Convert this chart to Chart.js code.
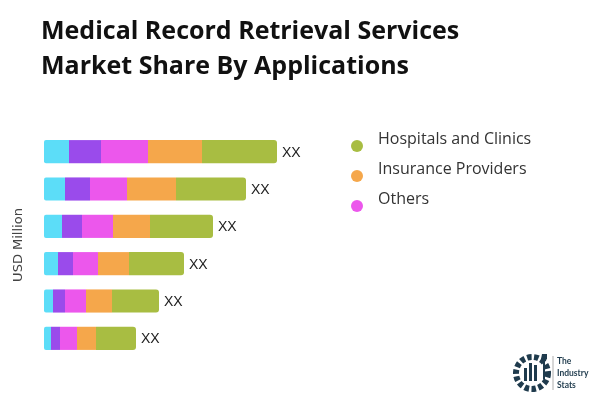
<!DOCTYPE html>
<html>
<head>
<meta charset="utf-8">
<script src="https://cdn.jsdelivr.net/npm/chart.js@4.4.1/dist/chart.umd.min.js"></script>
<style>
  body { margin: 0; background: #fff; }
  #wrap { position: relative; width: 600px; height: 400px; overflow: hidden; }
  #chart { position: absolute; left: 0; top: 0; }
  #title { position: absolute; left: 41px; top: 12px; font-family: "Open Sans", sans-serif; font-weight: 700; font-size: 25px; line-height: 35px; color: #111; }
  #legend { position: absolute; left: 351px; top: 127px; font-family: "Open Sans", sans-serif; font-size: 16px; color: #333; }
  .item { position: relative; height: 30px; padding-left: 27px; line-height: 22px; }
  .dot { position: absolute; left: 0; top: 13px; width: 12px; height: 12px; border-radius: 50%; }
  #logo { position: absolute; left: 510px; top: 350px; }
</style>
</head>
<body>
<div id="wrap">
  <canvas id="chart" width="600" height="400"></canvas>
  <div id="title">Medical Record Retrieval Services<br>Market Share By Applications</div>
  <div id="legend"></div>
  <svg id="logo" width="90" height="45" viewBox="0 0 90 45">
    <circle cx="22" cy="23" r="16" fill="none" stroke="#1f3b4d" stroke-width="6" stroke-dasharray="4.5 2.5"/>
    <rect x="14" y="18" width="3" height="13" fill="#1f3b4d"/>
    <rect x="19" y="13" width="3" height="18" fill="#1f3b4d"/>
    <rect x="24" y="15" width="3" height="16" fill="#1f3b4d"/>
    <path d="M32 4 l5 0 l0 5 l-2 2 l0 18 l-2 0 l0 -18 l-2 -2z" fill="#1f3b4d"/>
    <line x1="43" y1="6" x2="43" y2="40" stroke="#999" stroke-width="0.8"/>
    <text x="47" y="14" font-family="Lato, sans-serif" font-weight="700" font-size="8.5" fill="#1f3b4d">The</text>
    <text x="47" y="26" font-family="Lato, sans-serif" font-weight="700" font-size="8.5" fill="#1f3b4d">Industry</text>
    <text x="47" y="38" font-family="Lato, sans-serif" font-weight="700" font-size="8.5" fill="#1f3b4d">Stats</text>
  </svg>
</div>
<script>
// categories (not printed on the chart)
const categories = ["1", "2", "3", "4", "5", "6"];
const barLabels = ["XX", "XX", "XX", "XX", "XX", "XX"];

// segment values, left to right
const seriesA = [25, 21, 18, 14, 9, 7];        // cyan
const seriesB = [32, 25, 20, 15, 12, 9];       // purple
const others = [47, 37, 31, 25, 21, 17];       // magenta
const insurance = [54, 49, 37, 31, 26, 19];    // orange
const hospitals = [75, 70, 63, 55, 47, 40];    // green

const datasets = [
  { label: "Segment A", data: seriesA, backgroundColor: "#5cddf8", legend: false,
    borderRadius: { topLeft: 2, bottomLeft: 2 } },
  { label: "Segment B", data: seriesB, backgroundColor: "#9a4beb", legend: false },
  { label: "Others", data: others, backgroundColor: "#ec57ec", legend: true },
  { label: "Insurance Providers", data: insurance, backgroundColor: "#f5a74b", legend: true },
  { label: "Hospitals and Clinics", data: hospitals, backgroundColor: "#a8bd42", legend: true,
    borderRadius: { topRight: 3, bottomRight: 3 } }
];
datasets.forEach(d => {
  d.borderSkipped = false;
  d.barPercentage = 0.62;
  d.categoryPercentage = 1;
});

// legend, last dataset first
const legendEl = document.getElementById("legend");
datasets.slice().reverse().filter(d => d.legend).forEach(d => {
  const item = document.createElement("div");
  item.className = "item";
  item.innerHTML = '<span class="dot" style="background:' + d.backgroundColor + '"></span>' + d.label;
  legendEl.appendChild(item);
});

const endLabels = {
  id: "endLabels",
  afterDatasetsDraw(chart) {
    const ctx = chart.ctx;
    const last = chart.getDatasetMeta(chart.data.datasets.length - 1);
    ctx.save();
    ctx.font = "14px 'Liberation Sans', Arial, sans-serif";
    ctx.fillStyle = "#222";
    ctx.textBaseline = "middle";
    last.data.forEach((bar, i) => {
      ctx.fillText(barLabels[i], bar.x + 5, bar.y + 1);
    });
    ctx.restore();
  }
};

new Chart(document.getElementById("chart"), {
  type: "bar",
  data: { labels: categories, datasets: datasets },
  options: {
    indexAxis: "y",
    responsive: false,
    animation: false,
    layout: { padding: { left: 7, right: 256, top: 133, bottom: 43 } },
    plugins: { legend: { display: false }, tooltip: { enabled: false } },
    scales: {
      x: { stacked: true, min: 0, max: 300, display: false },
      y: {
        stacked: true,
        grid: { display: false },
        border: { display: false },
        ticks: { display: false },
        title: { display: true, text: "USD Million", color: "#444",
          font: { size: 13, family: "'DejaVu Sans', sans-serif" } },
        afterFit: s => { s.width = 37; }
      }
    }
  },
  plugins: [endLabels]
});
</script>
</body>
</html>
